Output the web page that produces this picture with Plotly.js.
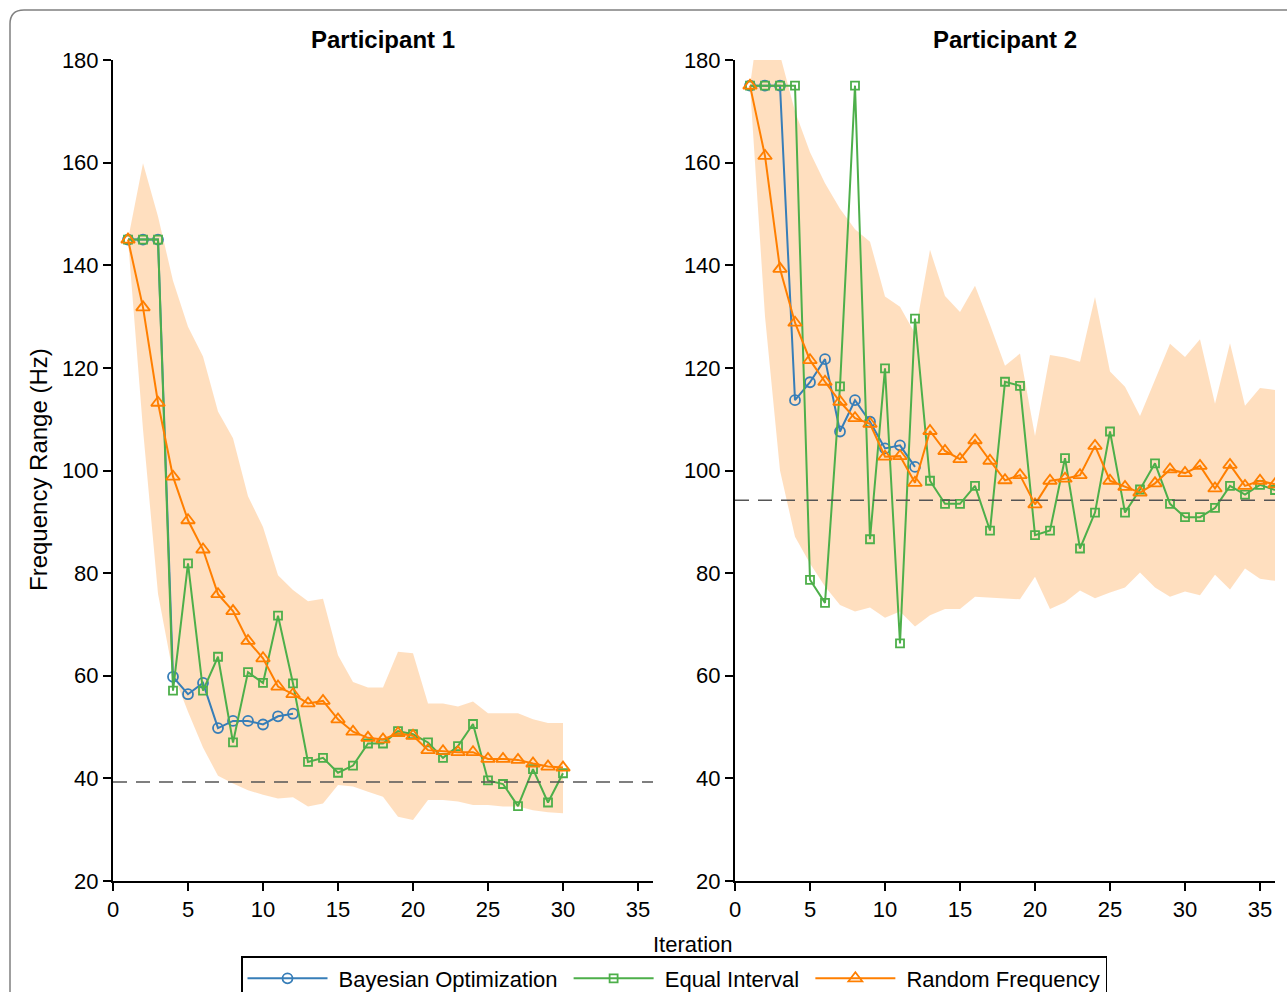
<!DOCTYPE html>
<html>
<head>
<meta charset="utf-8">
<script src="https://cdn.plot.ly/plotly-3.0.1.min.js"></script>
<style>
  html, body { margin: 0; padding: 0; background: #fff; }
  #chart { width: 1287px; height: 992px; }
</style>
</head>
<body>
<div id="chart"></div>
<script>
// ---------------- DATA ----------------
const seriesNames = ["Bayesian Optimization", "Equal Interval", "Random Frequency"];
const panelTitles = ["Participant 1", "Participant 2"];
const xTicks = [0, 5, 10, 15, 20, 25, 30, 35];
const yTicks = [20, 40, 60, 80, 100, 120, 140, 160, 180];

// Participant 1
const p1IterBO = [1,2,3,4,5,6,7,8,9,10,11,12];
const p1Iter = [1,2,3,4,5,6,7,8,9,10,11,12,13,14,15,16,17,18,19,20,21,22,23,24,25,26,27,28,29,30];
const p1BO = [145,145,145,59.8,56.4,58.6,49.8,51.2,51.2,50.5,52.1,52.6];
const p1EI = [145,145,145,57.1,81.9,57.1,63.7,47.0,60.7,58.6,71.7,58.5,43.2,44.0,41.1,42.5,46.8,46.8,49.2,48.6,47.0,44.0,46.3,50.6,39.6,38.9,34.6,41.8,35.3,41.0];
const p1RF = [145,131.8,113.2,98.8,90.3,84.6,75.9,72.6,66.8,63.4,57.9,56.4,54.6,55.1,51.5,49.1,47.9,47.6,48.8,48.3,45.5,45.3,45.1,45.1,43.8,43.8,43.6,42.9,42.3,42.1];
const p1Upper = [145,159.9,149.5,137,128,122.2,111.5,106.3,95,89,79.6,76.7,74.5,75,64,58.8,57.7,57.7,64.7,64.4,54.6,54.6,54,55,52.7,52.7,52.7,51.5,50.8,50.8];
const p1Lower = [145,108,76,60.5,53,46,40.5,39,37.7,36.8,36.1,36.3,34.5,35.1,38.7,38.4,37.4,36.4,32.5,31.9,35.8,35.8,35.5,34.8,34.8,34.5,34.5,33.8,33.4,33.2];
const p1Ref = 39.3;

// Participant 2
const p2IterBO = [1,2,3,4,5,6,7,8,9,10,11,12];
const p2Iter = [1,2,3,4,5,6,7,8,9,10,11,12,13,14,15,16,17,18,19,20,21,22,23,24,25,26,27,28,29,30,31,32,33,34,35,36];
const p2BO = [175,175,175,113.7,117.2,121.7,107.6,113.7,109.5,104.3,104.9,100.7];
const p2EI = [175,175,175,175,78.7,74.2,116.4,175,86.6,119.9,66.3,129.6,98.0,93.5,93.5,97.0,88.3,117.3,116.5,87.4,88.3,102.4,84.8,91.8,107.6,91.8,96.3,101.4,93.5,90.9,90.9,92.7,97.0,95.3,97.2,96.2];
const p2RF = [175,161.3,139.3,128.8,121.5,117.3,113.4,110.2,109.1,102.7,102.8,97.6,107.7,103.8,102.2,105.9,101.9,98.1,99.1,93.4,98.0,98.4,99.1,104.8,98.0,96.8,95.7,97.5,100.2,99.5,100.9,96.5,101.1,97.0,98.0,97.3];
const p2Upper = [175,196,181,170,162,156,151,147,144.6,133.9,131.9,126.7,143,134,130.9,136,128.4,120.4,122.8,106.7,122.5,122,121.2,133.8,119.3,116.3,110.6,117.6,124.7,122.1,125.6,113,124.8,112.6,116.1,115.7];
const p2Lower = [175,130,100,87.1,81.9,77.4,73.8,72.5,73.3,71.3,72.5,69.6,71.8,73,73,75.4,75.3,75.1,74.9,79.3,73,74.3,76.6,75.1,76.2,77.2,80.1,77.2,75.4,76.4,75.7,79.7,76.8,80.9,78.9,78.5];
const p2Ref = 94.2;

// ---------------- STYLE ----------------
const W = 1287, H = 992;
const FONT = "Liberation Sans, Arial, Helvetica, sans-serif";
const cBO = "#377eb8", cEI = "#4daf4a", cRF = "#ff7f00";
const bandColor = "rgba(255,127,0,0.25)";
const NB = "\u00a0";

function band(x, up, lo, xa, ya) {
  return {
    x: x.concat(x.slice().reverse()),
    y: up.concat(lo.slice().reverse()),
    fill: "toself", fillcolor: bandColor, mode: "lines",
    line: { width: 0, color: "rgba(0,0,0,0)" },
    hoverinfo: "skip", showlegend: false, xaxis: xa, yaxis: ya
  };
}
function series(x, y, name, color, symbol, size, xa, ya, show) {
  return {
    x: x, y: y, name: name, mode: "lines+markers", legendgroup: name,
    line: { color: color, width: 2 },
    marker: { symbol: symbol, size: size, color: color, line: { color: color, width: 1.8 } },
    showlegend: show, xaxis: xa, yaxis: ya
  };
}
// legend labels with a little spacing around the text
const legName = [NB + seriesNames[0] + NB, NB + seriesNames[1] + NB, NB + seriesNames[2]];

const traces = [
  band(p1Iter, p1Upper, p1Lower, "x", "y"),
  band(p2Iter, p2Upper, p2Lower, "x2", "y2"),
  series(p1IterBO, p1BO, legName[0], cBO, "circle-open", 10, "x", "y", true),
  series(p1Iter, p1EI, legName[1], cEI, "square-open", 8, "x", "y", true),
  series(p1Iter, p1RF, legName[2], cRF, "triangle-up-open", 12, "x", "y", true),
  series(p2IterBO, p2BO, legName[0], cBO, "circle-open", 10, "x2", "y2", false),
  series(p2Iter, p2EI, legName[1], cEI, "square-open", 8, "x2", "y2", false),
  series(p2Iter, p2RF, legName[2], cRF, "triangle-up-open", 12, "x2", "y2", false)
];

const yDom = [1 - 881 / H, 1 - 60 / H];
function xAxis(dom, anchor) {
  return {
    domain: dom, anchor: anchor, range: [0, 36], tickvals: xTicks,
    ticks: "outside", ticklen: 8, tickwidth: 2, tickcolor: "#000",
    showline: true, linewidth: 2, linecolor: "#000",
    showgrid: false, zeroline: false,
    tickfont: { family: FONT, size: 22, color: "#000" }
  };
}
function yAxis(anchor) {
  return {
    domain: yDom, anchor: anchor, range: [20, 180], tickvals: yTicks,
    ticks: "outside", ticklen: 8, tickwidth: 2, tickcolor: "#000",
    showline: true, linewidth: 2, linecolor: "#000",
    showgrid: false, zeroline: false,
    tickfont: { family: FONT, size: 22, color: "#000" }
  };
}

const fx = 10 / W, fy = 1 - 10 / H, rx = 14 / W, ry = 14 / H;
const layout = {
  width: W, height: H,
  margin: { l: 0, r: 0, t: 0, b: 0, autoexpand: false },
  paper_bgcolor: "#fff", plot_bgcolor: "#fff",
  font: { family: FONT, color: "#000" },
  xaxis: xAxis([113 / W, 653 / W], "y"),
  yaxis: yAxis("x"),
  xaxis2: xAxis([735 / W, 1275 / W], "y2"),
  yaxis2: yAxis("x2"),
  showlegend: true,
  legend: {
    orientation: "h", x: 241 / W, xanchor: "left", y: 1 - 956 / H, yanchor: "top",
    bordercolor: "#000", borderwidth: 1.5, bgcolor: "#fff",
    font: { family: FONT, size: 22, color: "#000" },
    itemwidth: 80,
    traceorder: "normal"
  },
  shapes: [
    { type: "line", xref: "x domain", yref: "y", x0: 0, x1: 1, y0: p1Ref, y1: p1Ref,
      line: { color: "#555", width: 1.5, dash: "14px,9px" }, layer: "above" },
    { type: "line", xref: "x2 domain", yref: "y2", x0: 0, x1: 1, y0: p2Ref, y1: p2Ref,
      line: { color: "#555", width: 1.5, dash: "14px,9px" }, layer: "above" },
    { type: "path", xref: "paper", yref: "paper",
      path: "M " + fx + " -0.1 L " + fx + " " + (fy - ry) + " Q " + fx + " " + fy + " " + (fx + rx) + " " + fy + " L 1.1 " + fy,
      line: { color: "#808080", width: 1.5 } }
  ],
  annotations: [
    { text: "<b>" + panelTitles[0] + "</b>", xref: "paper", yref: "paper", x: 383 / W, y: 1 - 40 / H,
      xanchor: "center", yanchor: "middle", showarrow: false, font: { family: FONT, size: 24, color: "#000" } },
    { text: "<b>" + panelTitles[1] + "</b>", xref: "paper", yref: "paper", x: 1005 / W, y: 1 - 40 / H,
      xanchor: "center", yanchor: "middle", showarrow: false, font: { family: FONT, size: 24, color: "#000" } },
    { text: "Frequency Range (Hz)", xref: "paper", yref: "paper", x: 38 / W, y: 1 - 470 / H,
      xanchor: "center", yanchor: "middle", textangle: -90, showarrow: false, font: { family: FONT, size: 24, color: "#000" } },
    { text: "Iteration", xref: "paper", yref: "paper", x: 693 / W, y: 1 - 944 / H,
      xanchor: "center", yanchor: "middle", showarrow: false, font: { family: FONT, size: 22, color: "#000" } }
  ]
};

Plotly.newPlot("chart", traces, layout, { staticPlot: true, displayModeBar: false });
</script>
</body>
</html>
